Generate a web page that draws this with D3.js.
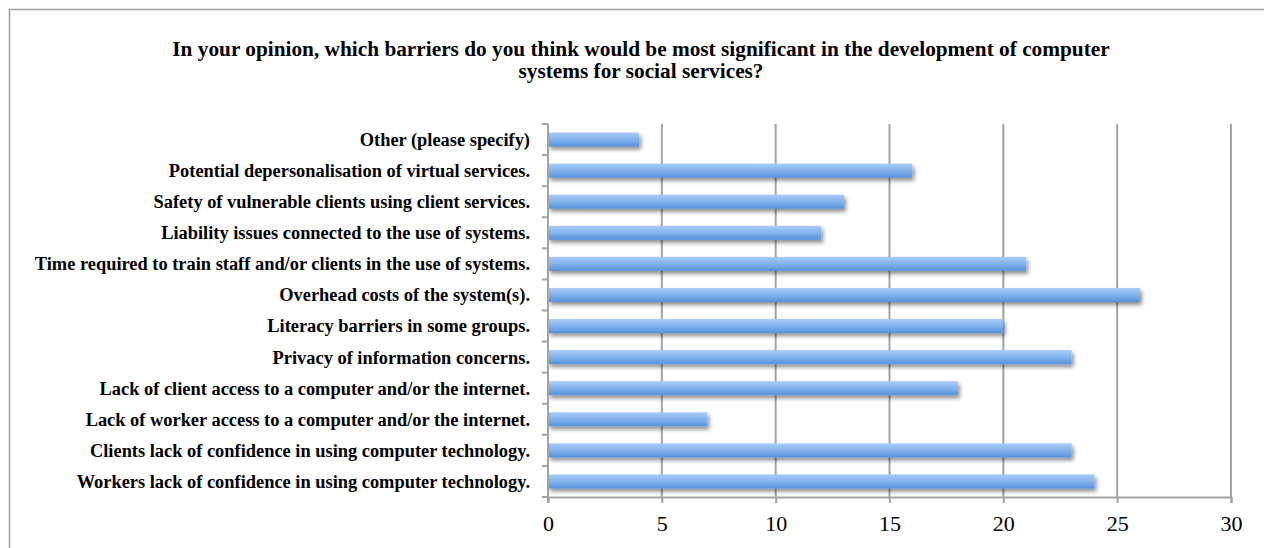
<!DOCTYPE html>
<html><head><meta charset="utf-8">
<script src="https://cdn.jsdelivr.net/npm/d3@7"></script>
<style>html,body{margin:0;padding:0;background:#fff;}svg{display:block;}</style>
</head><body>
<script>
const titleLines = ["In your opinion, which barriers do you think would be most significant in the development of computer",
                    "systems for social services?"];
const categories = [
  "Other (please specify)",
  "Potential depersonalisation of virtual services.",
  "Safety of vulnerable clients using client services.",
  "Liability issues connected to the use of systems.",
  "Time required to train staff and/or clients in the use of systems.",
  "Overhead costs of the system(s).",
  "Literacy barriers in some groups.",
  "Privacy of information concerns.",
  "Lack of client access to a computer and/or the internet.",
  "Lack of worker access to a computer and/or the internet.",
  "Clients lack of confidence in using computer technology.",
  "Workers lack of confidence in using computer technology."
];
const values = [4, 16, 13, 12, 21, 26, 20, 23, 18, 7, 23, 24];
const xTicks = [0, 5, 10, 15, 20, 25, 30];

const W = 1264, H = 548;
const svg = d3.select("body").append("svg").attr("width", W).attr("height", H);

const defs = svg.append("defs");
const grad = defs.append("linearGradient").attr("id","barGrad").attr("x1",0).attr("y1",0).attr("x2",0).attr("y2",1);
grad.append("stop").attr("offset","0%").attr("stop-color","#a9cbf7");
grad.append("stop").attr("offset","55%").attr("stop-color","#7eb0ec");
grad.append("stop").attr("offset","100%").attr("stop-color","#5592db");
const filt = defs.append("filter").attr("id","shadow").attr("x","-5%").attr("y","-50%").attr("width","115%").attr("height","250%");
filt.append("feGaussianBlur").attr("in","SourceAlpha").attr("stdDeviation",2.2).attr("result","b");
filt.append("feOffset").attr("in","b").attr("dx",2).attr("dy",3).attr("result","o");
filt.append("feComponentTransfer").attr("in","o").attr("result","oa").append("feFuncA").attr("type","linear").attr("slope",0.45);
const m = filt.append("feMerge"); m.append("feMergeNode").attr("in","oa"); m.append("feMergeNode").attr("in","SourceGraphic");

// frame
svg.append("path").attr("d", `M9.5,${H} V9.5 H${W}`).attr("fill","none").attr("stroke","#a0a0a0").attr("stroke-width",1.5);

// title
svg.append("g").selectAll("text").data(titleLines).join("text")
  .attr("x", 641).attr("y", (d,i)=>56 + i*22)
  .attr("text-anchor","middle")
  .style("font-family","'Liberation Serif', serif").style("font-weight","bold").style("font-size","21.3px")
  .attr("fill","#000").text(d=>d);

const pLeft = 548, pRight = 1231, pTop = 124, pBottom = 497;
const x = d3.scaleLinear().domain([0,30]).range([pLeft,pRight]);
const y = d3.scaleBand().domain(categories).range([pTop,pBottom]).paddingInner(0.55).paddingOuter(0.275);

// gridlines
svg.append("g").selectAll("line").data(xTicks.slice(1)).join("line")
  .attr("x1",d=>x(d)).attr("x2",d=>x(d)).attr("y1",pTop).attr("y2",pBottom)
  .attr("stroke","#a3a3a3").attr("stroke-width",2);

// bars
svg.append("g").selectAll("rect").data(values).join("rect")
  .attr("x", x(0)).attr("y",(d,i)=>y(categories[i]))
  .attr("width", d=>x(d)-x(0)).attr("height", y.bandwidth())
  .attr("fill","url(#barGrad)").attr("filter","url(#shadow)");

// x axis
const xAxis = svg.append("g").attr("transform",`translate(0,${pBottom})`)
  .call(d3.axisBottom(x).tickValues(xTicks).tickSize(6).tickPadding(12));
xAxis.select(".domain").attr("stroke","#a3a3a3").attr("stroke-width",2);
xAxis.selectAll(".tick line").attr("stroke","#a3a3a3").attr("stroke-width",2);
xAxis.selectAll("text").style("font-family","'Liberation Serif', serif").style("font-size","22px").attr("fill","#000");

// y axis
const yOuter = d3.scaleBand().domain(categories).range([pTop,pBottom]);
const yAxis = svg.append("g").attr("transform",`translate(${pLeft},0)`);
yAxis.append("line").attr("x1",0).attr("x2",0).attr("y1",pTop).attr("y2",pBottom+6).attr("stroke","#a3a3a3").attr("stroke-width",2);
const bounds = categories.map(c=>yOuter(c)).concat([pBottom]);
yAxis.selectAll("line.t").data(bounds).join("line").attr("class","t")
  .attr("x1",-6).attr("x2",0).attr("y1",d=>d).attr("y2",d=>d).attr("stroke","#a3a3a3").attr("stroke-width",2);
yAxis.selectAll("text").data(categories).join("text")
  .attr("x",-18).attr("y",d=>yOuter(d)+yOuter.bandwidth()/2).attr("dy","0.35em")
  .attr("text-anchor","end")
  .style("font-family","'Liberation Serif', serif").style("font-weight","bold").style("font-size","18.4px")
  .attr("fill","#000").text(d=>d);
</script>
</body></html>
